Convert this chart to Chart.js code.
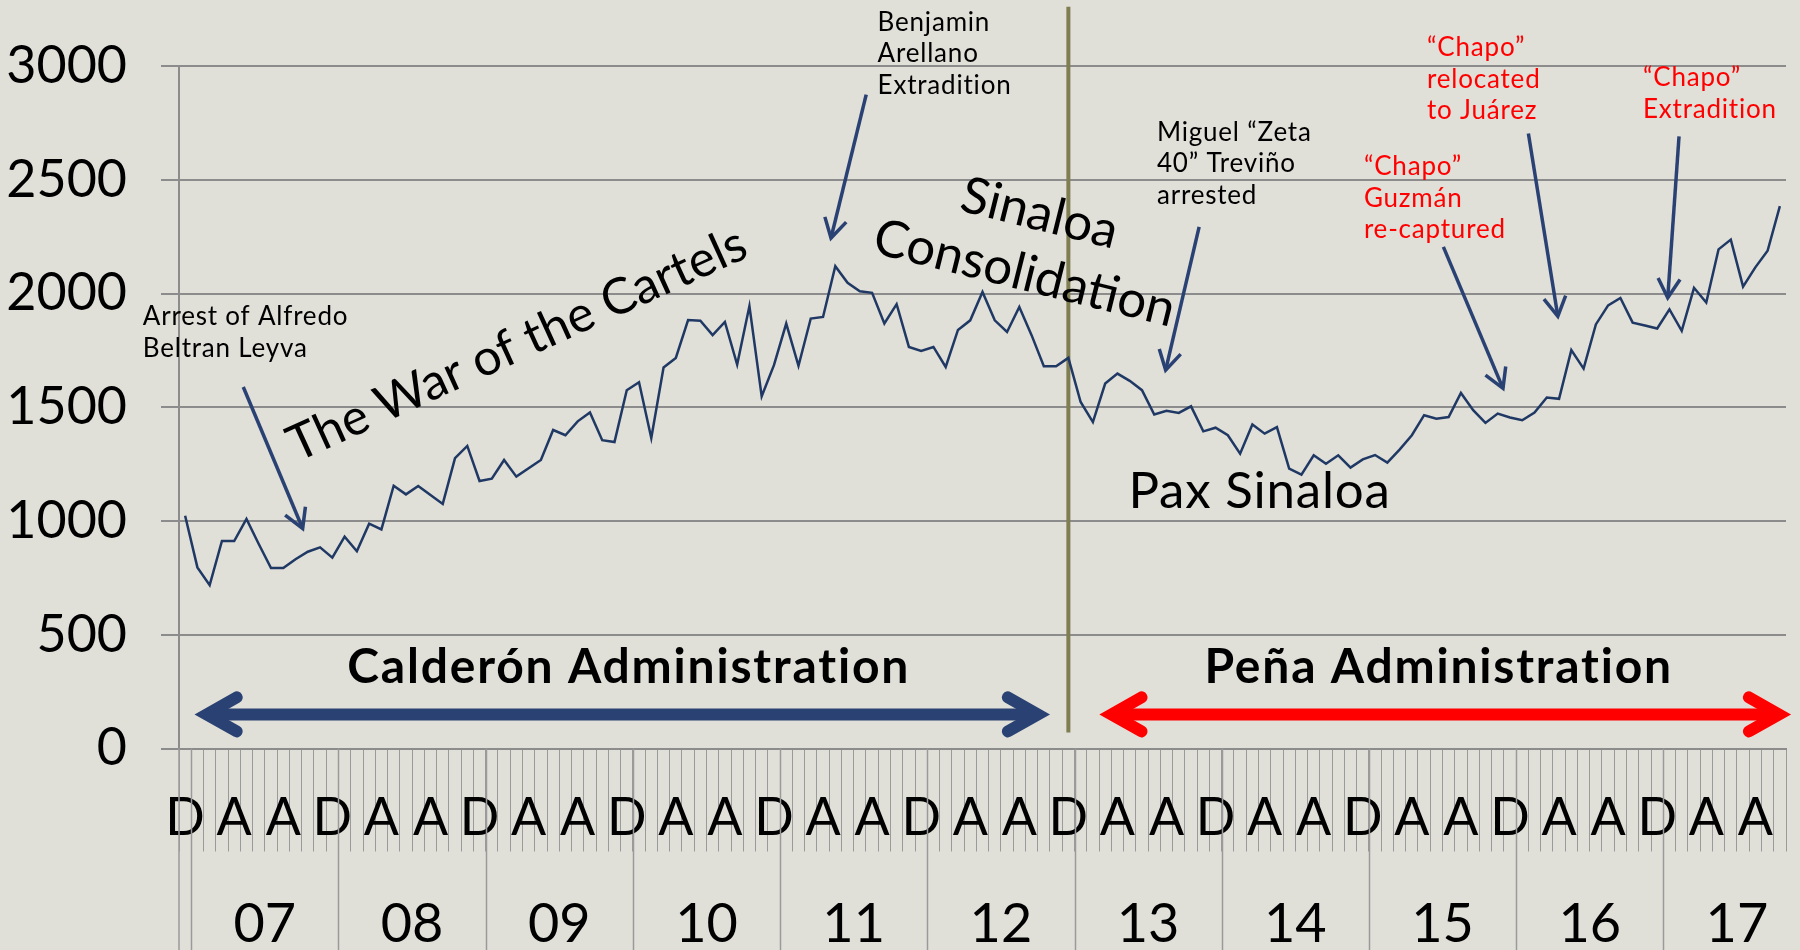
<!DOCTYPE html>
<html>
<head>
<meta charset="utf-8">
<script src="https://cdn.jsdelivr.net/npm/chart.js@4.4.1/dist/chart.umd.min.js"></script>
<style>
  html, body { margin: 0; padding: 0; background: #e0dfd8; overflow: hidden; }
  canvas { display: block; }
</style>
</head>
<body>
<canvas id="chart" width="1800" height="950"></canvas>
<script>
// ---- data: monthly homicides, Dec 2006 .. Oct 2017 ----
const monthNames = ['Jan','Feb','Mar','Apr','May','Jun','Jul','Aug','Sep','Oct','Nov','Dec'];
const yearLabels = ['07','08','09','10','11','12','13','14','15','16','17'];
const categories = ['Dec 06'];
yearLabels.forEach((yy, k) => monthNames.forEach((m, j) => {
    if (k < yearLabels.length - 1 || j < 10) categories.push(m + ' ' + yy);
}));

const homicides = [
    1023, 796, 718, 912, 912, 1009, 899, 793, 793, 832, 865, 884,
    839, 931, 867, 988, 963, 1155, 1117, 1154, 1114, 1075, 1276, 1330,
    1176, 1186, 1268, 1195, 1232, 1268, 1400, 1377, 1438, 1477, 1355, 1347,
    1575, 1610, 1365, 1675, 1717, 1883, 1880, 1817, 1875, 1688, 1945, 1548,
    1685, 1868, 1682, 1890, 1897, 2120, 2047, 2010, 2003, 1868, 1953, 1765,
    1748, 1765, 1677, 1840, 1882, 2007, 1882, 1831, 1941, 1817, 1680, 1680,
    1717, 1523, 1435, 1604, 1648, 1616, 1575, 1468, 1484, 1475, 1504, 1394,
    1410, 1377, 1296, 1424, 1384, 1413, 1230, 1204, 1289, 1252, 1289, 1235,
    1271, 1290, 1257, 1314, 1377, 1465, 1450, 1457, 1563, 1487, 1431, 1472,
    1455, 1443, 1477, 1543, 1537, 1751, 1670, 1864, 1948, 1980, 1872, 1859,
    1846, 1930, 1836, 2025, 1960, 2194, 2237, 2030, 2115, 2188, 2384
];

const yMin = 0, yMax = 3000, yStep = 500;
const tickEvery = 4;              // D, A, A ...

// ---- annotations (in data units: category index, value) ----
const RED = '#ff0000', NAVY = '#2a4273', INK = '#000000';
const notes = [
    { lines: ['Arrest of Alfredo', 'Beltran Leyva'], color: INK, at: [-3.45, 1861], from: [4.74, 1589], to: [9.58, 967] },
    { lines: ['Benjamin', 'Arellano', 'Extradition'], color: INK, at: [56.45, 3154], from: [55.52, 2874], to: [52.65, 2244] },
    { lines: ['Miguel “Zeta', '40” Treviño', 'arrested'], color: INK, at: [79.22, 2671], from: [82.66, 2293], to: [79.93, 1663] },
    { lines: ['“Chapo”', 'Guzmán', 're-captured'], color: RED, at: [96.09, 2520], from: [102.57, 2205], to: [107.43, 1583] },
    { lines: ['“Chapo”', 'relocated', 'to Juárez'], color: RED, at: [101.24, 3043], from: [109.5, 2703], to: [111.9, 1900] },
    { lines: ['“Chapo”', 'Extradition'], color: RED, at: [118.84, 2911], from: [121.78, 2691], to: [120.86, 1981] }
];
const themes = [
    { lines: ['The War of the Cartels'], at: [27.6, 1711], angle: -24.5, size: 50, align: 'center' },
    { lines: ['Sinaloa', 'Consolidation'], at: [68.1, 2017], angle: 14, size: 51, align: 'center' },
    { lines: ['Pax Sinaloa'], at: [76.9, 1055], angle: 0, size: 51, align: 'left', spacing: '0.8px' }
];
const eras = [
    { label: 'Calderón Administration', color: NAVY, from: 0.78, to: 70.49, labelAt: 36.16 },
    { label: 'Peña Administration', color: RED, from: 74.54, to: 130.9, labelAt: 102.19 }
];
const eraArrowValue = 150, eraLabelValue = 286;
const handover = { index: 72, top: 3260, bottom: 70 };   // Dec 2012

const FONT = 'Lato, "Noto Sans", sans-serif';
Chart.defaults.font.family = FONT;
Chart.defaults.color = '#000';

function arrowHead(ctx, x, y, dx, dy, len, ang) {
    const a = Math.atan2(dy, dx);
    ctx.beginPath();
    ctx.moveTo(x - len * Math.cos(a - ang), y - len * Math.sin(a - ang));
    ctx.lineTo(x, y);
    ctx.lineTo(x - len * Math.cos(a + ang), y - len * Math.sin(a + ang));
    ctx.stroke();
}

const decorations = {
    id: 'decorations',
    beforeDatasetsDraw(chart) {
        const { ctx, scales: { x, y } } = chart;
        ctx.save();
        ctx.strokeStyle = '#7e7e50'; ctx.lineWidth = 4;
        ctx.beginPath();
        ctx.moveTo(x.getPixelForValue(handover.index), y.getPixelForValue(handover.top));
        ctx.lineTo(x.getPixelForValue(handover.index), y.getPixelForValue(handover.bottom));
        ctx.stroke();
        ctx.restore();
    },
    afterDraw(chart) {
        const { ctx, scales: { x, y }, chartArea } = chart;
        const X = i => x.getPixelForValue(i), Y = v => y.getPixelForValue(v);
        const H = chart.height;
        ctx.save();

        // year separators and year labels
        ctx.strokeStyle = '#9a9a9a'; ctx.lineWidth = 1.5;
        ctx.beginPath();
        ctx.moveTo(X(-0.5), chartArea.bottom); ctx.lineTo(X(-0.5), H);
        yearLabels.forEach((yy, k) => {
            const bx = Math.round(X(0.5 + 12 * k)) + 0.5;
            ctx.moveTo(bx, chartArea.bottom); ctx.lineTo(bx, H);
        });
        ctx.stroke();
        ctx.fillStyle = INK; ctx.font = '54px ' + FONT;
        ctx.textAlign = 'center'; ctx.textBaseline = 'alphabetic';
        yearLabels.forEach((yy, k) => ctx.fillText(yy, X(6.5 + 12 * k), chartArea.bottom + 193));

        // administration arrows
        eras.forEach(e => {
            const yy = Y(eraArrowValue), l = X(e.from) + 12, r = X(e.to) - 12;
            ctx.strokeStyle = e.color; ctx.lineWidth = 12;
            ctx.lineCap = 'butt';
            ctx.beginPath(); ctx.moveTo(l, yy); ctx.lineTo(r, yy); ctx.stroke();
            ctx.lineCap = 'round'; ctx.lineJoin = 'miter';
            ctx.beginPath(); ctx.moveTo(l + 30, yy - 17); ctx.lineTo(l, yy); ctx.lineTo(l + 30, yy + 17); ctx.stroke();
            ctx.beginPath(); ctx.moveTo(r - 30, yy - 17); ctx.lineTo(r, yy); ctx.lineTo(r - 30, yy + 17); ctx.stroke();
            ctx.fillStyle = INK; ctx.font = 'bold 48px ' + FONT;
            ctx.letterSpacing = '1.8px';
            ctx.textAlign = 'center';
            ctx.fillText(e.label, X(e.labelAt), Y(eraLabelValue));
            ctx.letterSpacing = '0px';
        });

        // event notes with arrows
        notes.forEach(n => {
            ctx.fillStyle = n.color; ctx.font = '26px ' + FONT; ctx.textAlign = 'left';
            ctx.letterSpacing = '0.8px';
            n.lines.forEach((t, k) => ctx.fillText(t, X(n.at[0]), Y(n.at[1]) + k * 31.5));
            ctx.letterSpacing = '0px';
            const x0 = X(n.from[0]), y0 = Y(n.from[1]), x1 = X(n.to[0]), y1 = Y(n.to[1]);
            ctx.strokeStyle = NAVY; ctx.lineWidth = 3.5; ctx.lineCap = 'butt'; ctx.lineJoin = 'miter';
            ctx.beginPath(); ctx.moveTo(x0, y0); ctx.lineTo(x1, y1); ctx.stroke();
            arrowHead(ctx, x1, y1, x1 - x0, y1 - y0, 22, Math.PI / 6);
        });

        // period captions
        themes.forEach(t => {
            ctx.save();
            ctx.translate(X(t.at[0]), Y(t.at[1]));
            ctx.rotate(t.angle * Math.PI / 180);
            ctx.fillStyle = INK; ctx.font = t.size + 'px ' + FONT; ctx.textAlign = t.align;
            ctx.letterSpacing = t.spacing || '0px';
            const n = t.lines.length;
            t.lines.forEach((s, k) => ctx.fillText(s, 0, (k - (n - 1)) * 62));
            ctx.restore();
        });
        ctx.restore();
    }
};

new Chart(document.getElementById('chart'), {
    type: 'line',
    data: {
        labels: categories,
        datasets: [{
            data: homicides,
            borderColor: '#1f3864',
            borderWidth: 2.5,
            pointRadius: 0,
            tension: 0,
            fill: false
        }]
    },
    options: {
        responsive: false,
        animation: false,
        layout: { padding: { top: 66, right: 14, left: 0, bottom: 0 } },
        plugins: { legend: { display: false }, tooltip: { enabled: false } },
        scales: {
            x: {
                type: 'category',
                offset: true,
                afterFit: s => { s.height = 201.5; },
                grid: { offset: true, drawOnChartArea: false, drawTicks: true, tickLength: 103, color: '#9a9a9a', lineWidth: 1 },
                border: { display: true, color: '#8c8c8c', width: 2 },
                ticks: {
                    autoSkip: false, maxRotation: 0, minRotation: 0, padding: -64,
                    font: { size: 52 }, color: INK,
                    callback: (v, i) => i % tickEvery === 0 ? categories[i].charAt(0) : ''
                }
            },
            y: {
                min: yMin, max: yMax,
                afterFit: s => { s.width = 179; },
                grid: { color: '#8c8c8c', lineWidth: 2, tickLength: 18 },
                border: { display: true, color: '#8c8c8c', width: 2 },
                ticks: { stepSize: yStep, padding: 34, font: { size: 52 }, color: INK, callback: v => String(v) }
            }
        }
    },
    plugins: [decorations]
});
</script>
</body>
</html>
